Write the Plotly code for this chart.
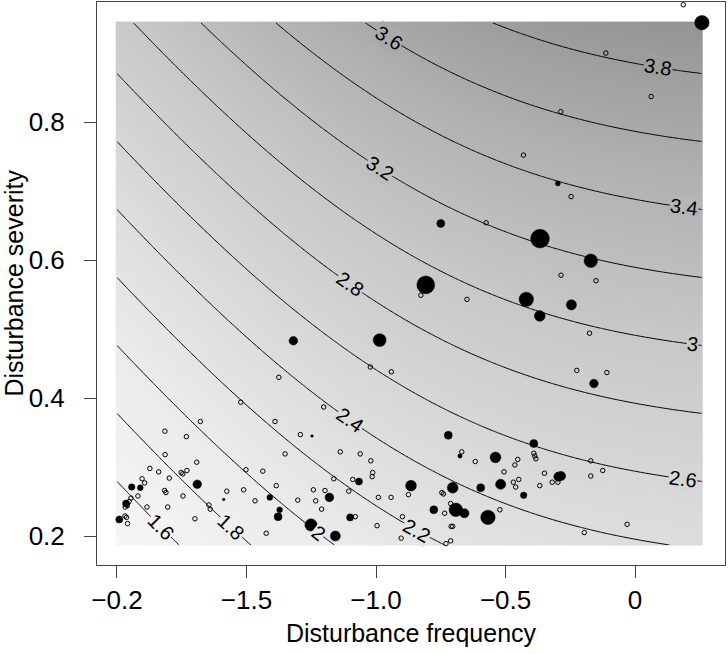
import numpy as np
import plotly.graph_objects as go

freq_anchor = [-1.993, -1.938, -1.672, -1.586, -1.39, -1.2575, -1.10, -0.985, -0.907,
               -0.548, -0.391, 0.1236, 0.2575]
base_anchor = [1.04, 1.084, 1.284, 1.347, 1.484, 1.557, 1.66, 1.715, 1.75,
               1.884, 1.922, 2.02, 2.036]
severity_slope = 2.03
freq_limits = [-2.0, 0.2575]
sev_limits = [0.187, 0.944]
contour_start, contour_end, contour_step = 1.6, 3.8, 0.2
label_levels = [1.6, 1.8, 2.0, 2.2, 2.4, 2.6, 2.8, 3.0, 3.2, 3.4, 3.6, 3.8]
label_text = ["1.6", "1.8", "2", "2.2", "2.4", "2.6", "2.8", "3", "3.2", "3.4", "3.6", "3.8"]
label_freq = [-1.830, -1.560, -1.222, -0.840, -1.100, 0.185, -1.100, 0.220, -0.985, 0.189, -0.950, 0.089]

# ---- observed sites: large (filled) ----
filled_freq = [-1.319, -0.986, -1.247, -1.690, -1.943, -1.910, -1.965, -1.991, -1.588, -1.410,
               -1.372, -1.378, -1.251, -1.157, -1.180, -1.066, -1.100, -0.808, -0.420, -0.246,
               -0.368, -0.159, -0.721, -0.391, -0.676, -0.539, -0.865, -0.519, -0.704, -0.596,
               -0.430, -0.296, -0.286, -0.777, -0.692, -0.659, -0.568, 0.258, -0.298, -0.750,
               -0.367, -0.171]
filled_sev = [0.483, 0.484, 0.345, 0.275, 0.271, 0.270, 0.247, 0.224, 0.253, 0.256,
              0.238, 0.228, 0.216, 0.200, 0.256, 0.279, 0.227, 0.564, 0.543, 0.535,
              0.519, 0.421, 0.346, 0.334, 0.316, 0.314, 0.273, 0.275, 0.270, 0.270,
              0.259, 0.286, 0.287, 0.238, 0.238, 0.233, 0.227, 0.944, 0.711, 0.653,
              0.631, 0.599]
filled_effect = [4, 6, 1.2, 4, 3, 2.7, 3.3, 3.3, 1.2, 2.7,
                 2.7, 3.7, 5.7, 4.7, 4, 3.3, 3.3, 8.3, 6.7, 4.7,
                 5, 4, 3.7, 3.7, 2, 5, 5, 4.7, 5, 3.7,
                 3, 4.3, 4.3, 3.7, 6.3, 4.3, 6.7, 6.7, 2.3, 3.7,
                 8.7, 6.3]

# ---- observed sites: open ----
open_freq = [-1.022, -0.941, -1.375, -1.522, -1.202, -1.678, -1.390, -1.815, -1.732, -1.292,
             -1.138, -1.061, -1.351, -1.814, -1.020, -1.692, -1.873, -1.839, -1.752, -1.730,
             -1.746, -1.502, -1.437, -1.013, -1.015, -1.090, -1.163, -1.798, -1.903, -1.893,
             -1.385, -1.816, -1.811, -1.576, -1.511, -1.242, -1.197, -1.745, -1.919, -1.946,
             -1.467, -1.302, -1.233, -1.105, -0.991, -0.942, -1.953, -1.960, -1.968, -1.884,
             -1.804, -1.645, -1.640, -1.210, -1.969, -1.963, -1.841, -1.699, -1.959, -1.424,
             -1.080, -0.996, -0.898, -0.903,
             -0.286, -0.151, -0.827, -0.649, -0.176, -0.225, -0.109, -0.669, -0.617, -0.453,
             -0.464, -0.391, -0.387, -0.383, -0.171, -0.125, -0.171, -0.350, -0.320, -0.298,
             -0.506, -0.470, -0.449, -0.461, -0.368, -0.875, -0.746, -0.740, -0.735, -0.712,
             -0.522, -0.710, -0.704, -0.730, -0.712, -0.196, -0.031,
             0.186, -0.113, 0.062, -0.287, -0.431, -0.247, -0.575]
open_sev = [0.445, 0.438, 0.430, 0.394, 0.387, 0.366, 0.366, 0.352, 0.344, 0.347,
            0.322, 0.319, 0.319, 0.318, 0.309, 0.307, 0.298, 0.293, 0.292, 0.295,
            0.290, 0.296, 0.294, 0.292, 0.286, 0.282, 0.283, 0.284, 0.283, 0.277,
            0.273, 0.266, 0.263, 0.265, 0.267, 0.267, 0.266, 0.258, 0.258, 0.255,
            0.251, 0.252, 0.251, 0.265, 0.256, 0.256, 0.250, 0.244, 0.242, 0.242,
            0.242, 0.245, 0.239, 0.239, 0.229, 0.227, 0.225, 0.225, 0.218, 0.204,
            0.228, 0.215, 0.228, 0.197,
            0.578, 0.570, 0.549, 0.543, 0.494, 0.440, 0.437, 0.322, 0.308, 0.311,
            0.303, 0.320, 0.316, 0.312, 0.309, 0.295, 0.287, 0.291, 0.278, 0.278,
            0.293, 0.278, 0.282, 0.271, 0.273, 0.260, 0.263, 0.261, 0.233, 0.247,
            0.238, 0.214, 0.214, 0.189, 0.193, 0.205, 0.217,
            0.970, 0.900, 0.837, 0.815, 0.752, 0.692, 0.654]

x_tickvals = [-2.0, -1.5, -1.0, -0.5, 0.0]
x_ticktext = ["\u22120.2", "\u22121.5", "\u22121.0", "\u22120.5", "0"]
y_tickvals = [0.2, 0.4, 0.6, 0.8]
y_ticktext = ["0.2", "0.4", "0.6", "0.8"]

# ---- smooth saturating baseline fitted to the anchors ----
ax = np.array(freq_anchor)
ag = np.array(base_anchor)
best = None
for m in np.linspace(0.4, 6.0, 113):
    for x0 in np.linspace(-2.2, 0.6, 141):
        sp = np.logaddexp(0.0, m * (ax - x0)) / m
        A = np.column_stack([np.ones_like(ax), ax - sp])
        sol = np.linalg.lstsq(A, ag, rcond=None)[0]
        err = float(((A @ sol - ag) ** 2).sum())
        if best is None or err < best[0]:
            best = (err, m, x0, sol)
_, M, X0, (A0, L0) = best


def base(x):
    x = np.asarray(x, dtype=float)
    return A0 + L0 * (x - np.logaddexp(0.0, M * (x - X0)) / M)


def base_slope(x):
    return L0 / (1.0 + np.exp(M * (np.asarray(x, dtype=float) - X0)))


gx = np.linspace(freq_limits[0], freq_limits[1], 240)
gy = np.linspace(sev_limits[0], sev_limits[1], 240)
GX, GY = np.meshgrid(gx, gy)
Z = base(GX) + severity_slope * GY

FONT = "Liberation Sans, Arial, Helvetica, sans-serif"

zlo, zhi = 1.42, 3.96
gray_z = [zlo, 2.0, 2.5, 3.0, 3.5, zhi]
gray_v = [246, 235, 218, 200, 176, 148]
gray_scale = [[(z - zlo) / (zhi - zlo), "rgb({0},{0},{0})".format(v)] for z, v in zip(gray_z, gray_v)]

x_range = [-2.077, 0.347]
y_range = [0.158, 0.974]
W, H = 728, 654
mrg = dict(l=97, r=3, t=2, b=89)
px_per_x = (W - mrg["l"] - mrg["r"]) / (x_range[1] - x_range[0])
px_per_y = (H - mrg["t"] - mrg["b"]) / (y_range[1] - y_range[0])

fig = go.Figure()
fig.add_trace(go.Heatmap(
    x=gx, y=gy, z=Z, zmin=zlo, zmax=zhi, zsmooth="best",
    colorscale=gray_scale, showscale=False, hoverinfo="skip"))
fig.add_trace(go.Contour(
    x=gx, y=gy, z=Z, autocontour=False,
    contours=dict(start=contour_start, end=contour_end, size=contour_step,
                  coloring="none", showlabels=False),
    line=dict(color="black", width=1), showscale=False, hoverinfo="skip"))

# contour labels, R style (line broken under the label)
for lev, txt, lx in zip(label_levels, label_text, label_freq):
    ly = (lev - float(base(lx))) / severity_slope
    slope_px = float(base_slope(lx)) / severity_slope * px_per_y / px_per_x
    ang = float(np.degrees(np.arctan(slope_px)))
    gv = int(round(np.interp(lev, gray_z, gray_v)))
    fig.add_annotation(x=lx, y=ly, xref="x", yref="y", text=txt, showarrow=False,
                       textangle=ang, font=dict(size=20, family=FONT, color="black"),
                       bgcolor="rgb({0},{0},{0})".format(gv), borderpad=0)

fig.add_trace(go.Scatter(
    x=open_freq, y=open_sev, mode="markers", cliponaxis=False,
    marker=dict(symbol="circle-open", size=4.5, color="black", line=dict(width=1, color="black")),
    hoverinfo="skip"))
fig.add_trace(go.Scatter(
    x=filled_freq, y=filled_sev, mode="markers", cliponaxis=False,
    marker=dict(symbol="circle", size=[2.15 * v for v in filled_effect], color="black",
                opacity=1, line=dict(width=0.5, color="black")),
    hoverinfo="skip"))

fig.add_annotation(text="Disturbance severity", xref="paper", yref="paper", x=0, y=0.5,
                   xshift=-84, xanchor="center", yanchor="middle", textangle=-90, showarrow=False,
                   font=dict(size=25, family=FONT, color="black"))

axis_common = dict(showline=True, mirror=True, linecolor="#444", linewidth=1, automargin=False,
                   ticks="outside", ticklen=12, tickcolor="#444", showgrid=False, zeroline=False,
                   tickfont=dict(size=26, family=FONT, color="black"))
fig.update_layout(
    width=W, height=H, showlegend=False,
    margin=mrg,
    paper_bgcolor="white", plot_bgcolor="white",
    xaxis=dict(range=x_range, tickvals=x_tickvals, ticktext=x_ticktext,
               title=dict(text="Disturbance frequency", font=dict(size=25, family=FONT, color="black"),
                          standoff=10),
               **axis_common),
    yaxis=dict(range=y_range, tickvals=y_tickvals, ticktext=y_ticktext,
               ticklabelstandoff=14, **axis_common),
)
fig.write_html("out.html", config={"displayModeBar": False},
               post_script="document.body.style.margin='0px';")
